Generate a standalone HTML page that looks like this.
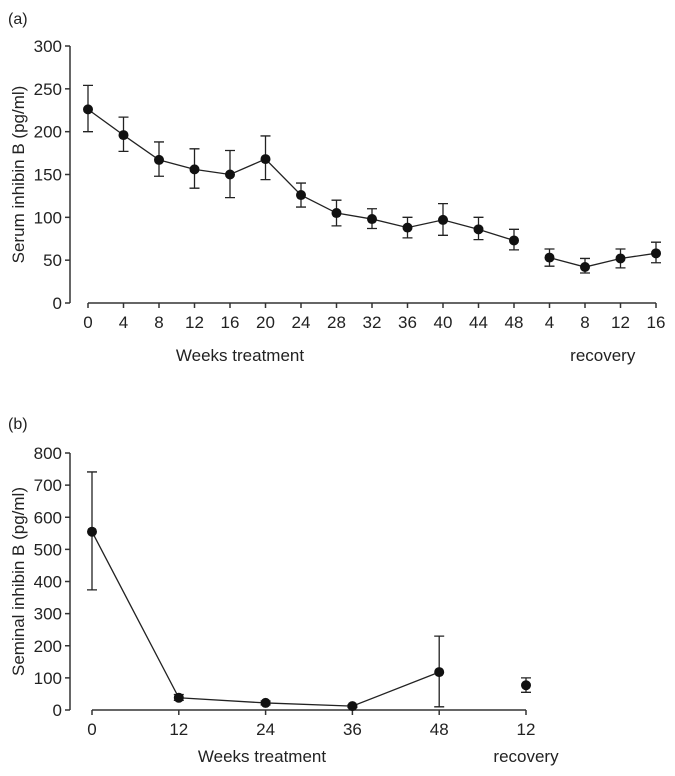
<!DOCTYPE html>
<html><head><meta charset="utf-8"><style>
html,body{margin:0;padding:0;background:#fff;}
svg{display:block;font-family:"Liberation Sans",Arial,sans-serif;}
</style></head><body>
<svg id="fig" width="675" height="776" viewBox="0 0 675 776"></svg>
<script>
// Panel (a) data
const aWeeks = ["0","4","8","12","16","20","24","28","32","36","40","44","48"];
const aMean = [226,196,167,156,150,168,126,105,98,88,97,86,73];
const aHi = [254,217,188,180,178,195,140,120,110,100,116,100,86];
const aLo = [200,177,148,134,123,144,112,90,87,76,79,74,62];
const aRecWeeks = ["4","8","12","16"];
const aRecMean = [53,42,52,58];
const aRecHi = [63,52,63,71];
const aRecLo = [43,35,41,47];
const aYTicks = [0,50,100,150,200,250,300];
// Panel (b) data
const bWeeks = ["0","12","24","36","48"];
const bMean = [555,38,22,12,118];
const bHi = [741,48,28,16,230];
const bLo = [374,30,16,8,10];
const bRecWeeks = ["12"];
const bRecMean = [77];
const bRecHi = [100];
const bRecLo = [55];
const bYTicks = [0,100,200,300,400,500,600,700,800];

const NS="http://www.w3.org/2000/svg";
const svg=document.getElementById('fig');
function mk(tag,attrs,parent){const e=document.createElementNS(NS,tag);for(const k in attrs)e.setAttribute(k,attrs[k]);(parent||svg).appendChild(e);return e;}
function txt(x,y,s,size,anchor,parent){const t=mk('text',{x:x,y:y,'font-size':size,'text-anchor':anchor||'middle',fill:'#222'},parent);t.textContent=s;return t;}

function panel(cfg){
  const g=mk('g',{});
  
  
  const yS=v=>cfg.y0-(v-0)*(cfg.y0-cfg.yTop)/cfg.yMax;
  const xS=i=>cfg.x0+i*cfg.dx;
  const ax='#333';
  // panel letter
  const pl=txt(8,cfg.letterY,cfg.letter,16,'start',g);
  
  
  // y axis
  const ya=mk('line',{x1:cfg.axX,y1:cfg.yTop,x2:cfg.axX,y2:cfg.y0,stroke:ax,'stroke-width':1.5},g);
  
  
  cfg.yTicks.forEach(v=>{
    const y=yS(v);
    mk('line',{x1:cfg.axX-5,y1:y,x2:cfg.axX,y2:y,stroke:ax,'stroke-width':1.5},g);
    const t=txt(cfg.axX-8,y+6,String(v),17,'end',g);
    
    
  });
  const yt=txt(0,0,cfg.yTitle,17,'middle',g);
  yt.setAttribute('transform','translate('+cfg.yTitleX+','+((cfg.yTop+cfg.y0)/2)+') rotate(-90)');
  
  
  // x axis
  const allLabels=cfg.weeks.concat(cfg.recWeeks);
  const xEnd=xS(allLabels.length-1);
  const xa=mk('line',{x1:cfg.x0,y1:cfg.y0,x2:xEnd,y2:cfg.y0,stroke:ax,'stroke-width':1.5},g);
  
  
  allLabels.forEach((l,i)=>{
    const x=xS(i);
    mk('line',{x1:x,y1:cfg.y0,x2:x,y2:cfg.y0+5,stroke:ax,'stroke-width':1.5},g);
    const t=txt(x,cfg.y0+25,l,17,'middle',g);
    
    
  });
  const wt=txt(cfg.wtX,cfg.titleY,'Weeks treatment',17,'middle',g);
  
  
  const rt=txt(xS(cfg.weeks.length+(cfg.recWeeks.length-1)/2),cfg.titleY,'recovery',17,'middle',g);
  
  
  // series
  function series(mean,hi,lo,off,nm){
    const pts=mean.map((v,i)=>xS(i+off)+','+yS(v)).join(' ');
    if(mean.length>1){
      const pl=mk('polyline',{points:pts,fill:'none',stroke:'#222','stroke-width':1.3},g);
      
      
    }
    mean.forEach((v,i)=>{
      const x=xS(i+off);
      const eb=mk('path',{d:'M'+x+','+yS(hi[i])+'V'+yS(lo[i])+'M'+(x-5)+','+yS(hi[i])+'H'+(x+5)+'M'+(x-5)+','+yS(lo[i])+'H'+(x+5),stroke:'#222','stroke-width':1.3,fill:'none'},g);
      
      
      const c=mk('circle',{cx:x,cy:yS(v),r:5,fill:'#111'},g);
      
      
    });
  }
  series(cfg.mean,cfg.hi,cfg.lo,0,'treatment');
  series(cfg.recMean,cfg.recHi,cfg.recLo,cfg.weeks.length,'recovery');
}

panel({name:'panel-a-serum',letter:'(a)',letterY:24,axX:70,x0:88,dx:35.5,y0:303,yTop:46,yMax:300,
  yTicks:aYTicks,yTitle:'Serum inhibin B (pg/ml)',yTitleX:24,weeks:aWeeks,recWeeks:aRecWeeks,
  mean:aMean,hi:aHi,lo:aLo,recMean:aRecMean,recHi:aRecHi,recLo:aRecLo,titleY:361,wtX:240});
panel({name:'panel-b-seminal',letter:'(b)',letterY:429,axX:70,x0:92,dx:86.8,y0:710,yTop:453,yMax:800,
  yTicks:bYTicks,yTitle:'Seminal inhibin B (pg/ml)',yTitleX:24,weeks:bWeeks,recWeeks:bRecWeeks,
  mean:bMean,hi:bHi,lo:bLo,recMean:bRecMean,recHi:bRecHi,recLo:bRecLo,titleY:762,wtX:262});
</script>
</body></html>
